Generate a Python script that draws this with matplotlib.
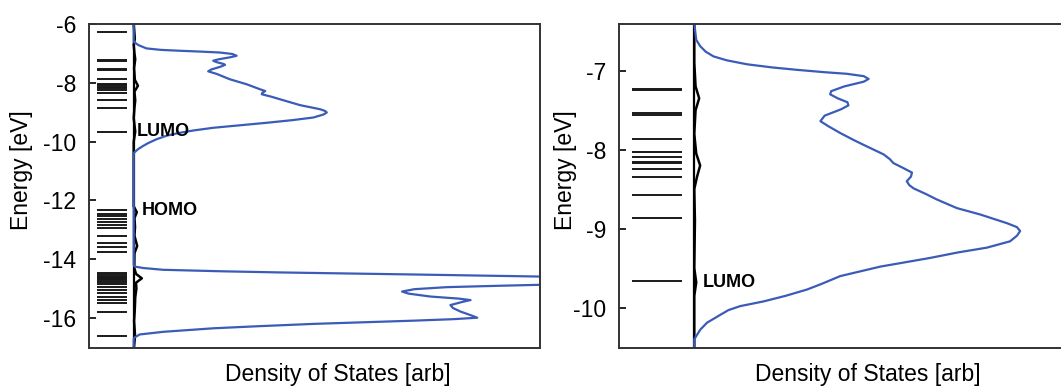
import numpy as np
import matplotlib.pyplot as plt

plt.rcParams['font.family'] = ['Liberation Sans', 'DejaVu Sans']
plt.rcParams['axes.unicode_minus'] = False

# ----------------------
# data
# ----------------------
# molecular levels (eV)
levels_unocc = [-6.26, -7.23, -7.25, -7.54, -7.56, -7.87, -8.03, -8.09,
                -8.15, -8.17, -8.24, -8.35, -8.58, -8.86, -9.66]
levels_occ = [-12.34, -12.45, -12.54, -12.63, -12.73, -12.85, -12.95,
              -13.22, -13.45, -13.59, -13.74,
              -14.48, -14.52, -14.56, -14.60, -14.64, -14.68, -14.72, -14.76,
              -14.85, -14.93, -15.04, -15.16, -15.27, -15.39, -15.50,
              -15.80, -16.61]

# left panel, blue DOS (energy, dos)
left_E = [-6.00, -6.60, -6.63, -6.72, -6.83, -6.88, -6.91, -6.94, -6.97,
          -7.02, -7.08, -7.13, -7.20, -7.25, -7.30, -7.36, -7.39, -7.45,
          -7.55, -7.61, -7.70, -7.88, -8.05, -8.22, -8.28, -8.34, -8.39,
          -8.47, -8.56, -8.76, -8.90, -8.96, -9.01, -9.08, -9.18, -9.27,
          -9.36, -9.53, -9.62, -9.70, -9.80, -9.92, -10.05, -10.15, -10.26,
          -10.36, -10.40,
          -14.20, -14.25, -14.30, -14.36, -14.41, -14.45, -14.52, -14.59,
          -14.72, -14.87, -14.91, -14.95, -15.02, -15.10, -15.17, -15.27,
          -15.34, -15.39, -15.45, -15.56, -15.66, -15.78, -15.90, -15.99,
          -16.04, -16.09, -16.20, -16.28, -16.35, -16.47, -16.56, -16.66,
          -16.70, -17.10]
left_dos = [0.0, 0.0, 0.005, 0.025, 0.066, 0.14, 0.238, 0.35, 0.446,
            0.51, 0.532, 0.50, 0.44, 0.411, 0.43, 0.465, 0.472, 0.45,
            0.40, 0.385, 0.43, 0.497, 0.584, 0.653, 0.68, 0.665, 0.662,
            0.71, 0.756, 0.860, 0.964, 0.99, 0.998, 0.98, 0.929, 0.82,
            0.687, 0.411, 0.31, 0.238, 0.17, 0.118, 0.075, 0.048, 0.022,
            0.005, 0.0,
            0.0, 0.005, 0.05, 0.152, 0.45, 0.756, 1.45, 2.10,
            2.60, 2.10, 1.85, 1.62, 1.45, 1.387, 1.42, 1.534,
            1.68, 1.741, 1.70, 1.637, 1.65, 1.689, 1.74, 1.776,
            1.65, 1.448, 0.929, 0.64, 0.411, 0.152, 0.031, 0.005,
            0.0, 0.0]

# left panel, black DOS
left_black_E = [-6.0, -6.5, -6.7, -7.0, -7.2, -7.5, -7.9, -8.1, -8.3, -8.6,
                -8.85, -9.2, -9.66, -10.0, -12.2, -12.4, -12.6, -12.9, -13.2,
                -13.55, -13.8, -14.3, -14.5, -14.65, -14.8, -15.0, -15.3,
                -15.5, -15.8, -16.1, -16.6, -17.1]
left_black_dos = [0.0, 0.006, 0.0, 0.004, 0.008, 0.002, 0.006, 0.022, 0.004,
                  0.008, 0.004, 0.0, 0.008, 0.0, 0.0, 0.016, 0.004, 0.007,
                  0.004, 0.018, 0.004, 0.003, 0.012, 0.042, 0.012, 0.014,
                  0.008, 0.007, 0.005, 0.002, 0.007, 0.0]

# right panel, blue DOS (LUMO band)
right_E = [-6.40, -6.61, -6.69, -6.76, -6.82, -6.87, -6.92, -6.96, -6.99,
           -7.02, -7.04, -7.07, -7.105, -7.14, -7.20, -7.26, -7.30, -7.35,
           -7.40, -7.44, -7.49, -7.57, -7.64, -7.70, -7.79, -7.88, -7.96,
           -8.06, -8.12, -8.17, -8.23, -8.29, -8.34, -8.40, -8.45, -8.49,
           -8.56, -8.63, -8.74, -8.82, -8.93, -8.98, -9.03, -9.09, -9.16,
           -9.24, -9.30, -9.37, -9.48, -9.60, -9.70, -9.77, -9.85, -9.92,
           -9.98, -10.03, -10.09, -10.19, -10.28, -10.36, -10.40, -10.60]
right_dos = [0.0, 0.006, 0.018, 0.035, 0.059, 0.10, 0.162, 0.24, 0.315,
             0.40, 0.468, 0.52, 0.535, 0.52, 0.46, 0.42, 0.417, 0.44,
             0.47, 0.473, 0.45, 0.40, 0.387, 0.41, 0.448, 0.49, 0.530,
             0.581, 0.60, 0.611, 0.64, 0.668, 0.665, 0.652, 0.660, 0.673,
             0.71, 0.744, 0.806, 0.877, 0.959, 0.99, 1.0, 0.99, 0.969,
             0.898, 0.81, 0.724, 0.571, 0.448, 0.39, 0.346, 0.28, 0.213,
             0.141, 0.105, 0.080, 0.039, 0.018, 0.006, 0.0, 0.0]

# right panel, black DOS
right_black_E = [-6.4, -6.9, -7.2, -7.35, -7.5, -7.8, -8.05, -8.2, -8.35,
                 -8.5, -8.9, -9.5, -9.68, -9.85, -10.6]
right_black_dos = [0.0, 0.0, 0.004, 0.015, 0.004, 0.0, 0.006, 0.018, 0.008,
                   0.0, 0.002, 0.0, 0.006, 0.0, 0.0]

blue = '#3a5cb8'
fs = 16.5

# ----------------------
# figure
# ----------------------
fig = plt.figure(figsize=(10.61, 3.88), dpi=100)
W, H = 1061, 388
axL = fig.add_axes([89 / W, 40 / H, 451 / W, 324 / H])
axR = fig.add_axes([619 / W, 40 / H, 481 / W, 324 / H])


def panel(ax, levels, E, dos, bE, bdos, xmax, ylim, yticks):
    ax.hlines(levels, -0.192, -0.037, color='#1a1a1a', lw=1.4)
    ax.axvline(0, color='k', lw=1.6)
    ax.plot(bdos, bE, color='k', lw=1.8)
    ax.plot(dos, E, color=blue, lw=1.6)
    ax.set_xlim(-0.231, xmax)
    ax.set_ylim(*ylim)
    ax.set_yticks(yticks)
    ax.set_yticklabels([str(t) for t in yticks])
    ax.set_xticks([])
    ax.tick_params(axis='y', direction='in', length=5, width=1.2,
                   labelsize=fs, pad=9)
    for s in ax.spines.values():
        s.set_linewidth(1.4)
        s.set_color('#333333')
    ax.set_ylabel('Energy [eV]', fontsize=fs)
    ax.set_xlabel('Density of States [arb]', fontsize=fs)


panel(axL, levels_unocc + levels_occ, left_E, left_dos,
      left_black_E, left_black_dos, 2.10, (-17.02, -6.0),
      [-6, -8, -10, -12, -14, -16])
axL.xaxis.set_label_coords((338 - 89) / 451, -0.047)
axL.yaxis.set_label_coords(-0.124, 0.55)
axL.text(0.016, -9.66, 'LUMO', fontsize=13, fontweight='bold',
         va='center', ha='left')
axL.text(0.04, -12.35, 'HOMO', fontsize=13, fontweight='bold',
         va='center', ha='left')

panel(axR, levels_unocc, right_E, right_dos,
      right_black_E, right_black_dos, 1.245, (-10.51, -6.41),
      [-7, -8, -9, -10])
axR.xaxis.set_label_coords((868 - 619) / 481, -0.047)
axR.yaxis.set_label_coords(-0.087, 0.55)
axR.text(0.025, -9.68, 'LUMO', fontsize=13, fontweight='bold',
         va='center', ha='left')

fig.savefig('out.png', dpi=100)
